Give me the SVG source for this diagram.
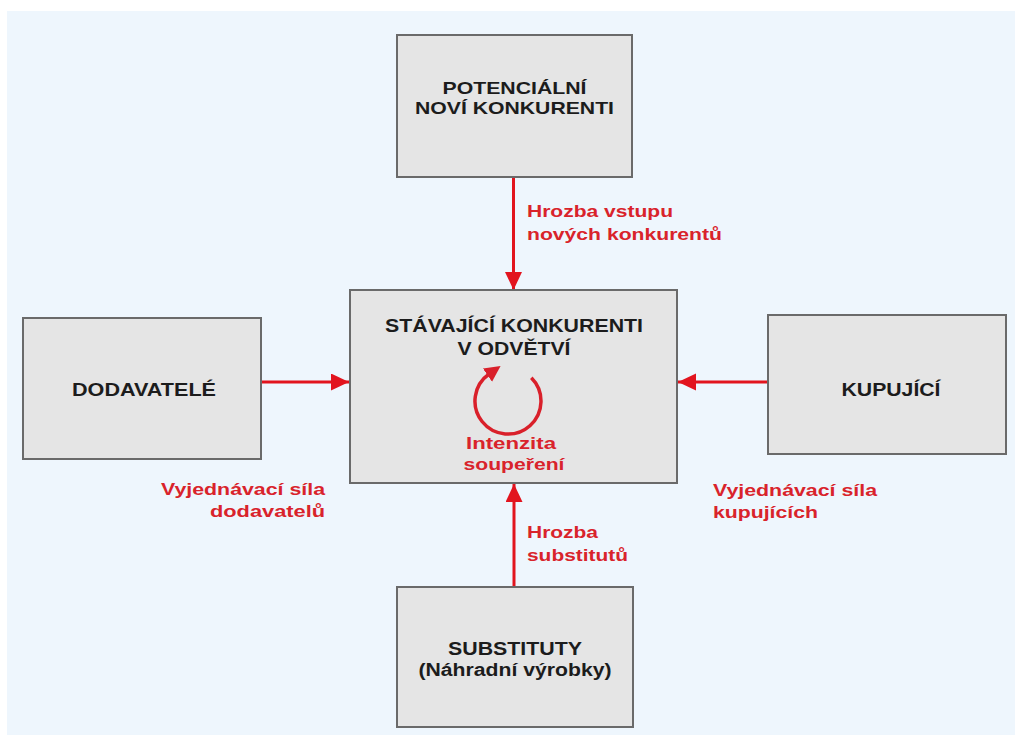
<svg xmlns="http://www.w3.org/2000/svg" width="1015" height="735" viewBox="0 0 1015 735">
<style>
.box{fill:#e5e5e5;stroke:#6a6a6a;stroke-width:2}
.t{font-family:"Liberation Sans",Arial,sans-serif;font-weight:bold;font-size:18px;fill:#1c1c1c}
.s{font-size:17px}
.r{font-family:"Liberation Sans",Arial,sans-serif;font-weight:bold;font-size:17px;fill:#d9232b}
.c{text-anchor:middle}
.e{text-anchor:end}
.ln{stroke:#e2141e;stroke-width:3;fill:none}
</style>
<defs>
<marker id="ah" markerUnits="userSpaceOnUse" markerWidth="20" markerHeight="18" refX="18" refY="8.5" orient="auto">
<path d="M0,0 L18,8.5 L0,17 z" fill="#e2141e"/>
</marker>
<marker id="ah2" markerUnits="userSpaceOnUse" markerWidth="18" markerHeight="18" refX="2" refY="8" orient="auto">
<path d="M0,0 L16,8 L0,16 z" fill="#d9202a"/>
</marker>
</defs>
<rect x="0" y="0" width="1015" height="735" fill="#ffffff"/>
<rect x="7" y="11" width="1008" height="724" fill="#eef6fd"/>

<g id="connectors">
<line class="ln" x1="513.5" y1="177" x2="513.5" y2="290" marker-end="url(#ah)"/>
<line class="ln" x1="261" y1="382" x2="349" y2="382" marker-end="url(#ah)"/>
<line class="ln" x1="768" y1="382" x2="678" y2="382" marker-end="url(#ah)"/>
<line class="ln" x1="514" y1="587" x2="514" y2="484" marker-end="url(#ah)"/>
</g>

<g id="node-potencialni">
<rect class="box" x="397" y="35" width="235" height="142"/>
<text class="t s c" x="514.5" y="94" textLength="144" lengthAdjust="spacingAndGlyphs">POTENCIÁLNÍ</text>
<text class="t s c" x="514.5" y="114" textLength="199" lengthAdjust="spacingAndGlyphs">NOVÍ KONKURENTI</text>
</g>

<g id="node-stavajici">
<rect class="box" x="350" y="290" width="327" height="193"/>
<text class="t c" x="514" y="332" textLength="258" lengthAdjust="spacingAndGlyphs">STÁVAJÍCÍ KONKURENTI</text>
<text class="t c" x="514" y="355" textLength="113" lengthAdjust="spacingAndGlyphs">V ODVĚTVÍ</text>
<path d="M531.3 377.7 A33 33 0 1 1 489.1 374" stroke="#d9202a" stroke-width="3.5" fill="none" marker-end="url(#ah2)"/>
<text class="r c" x="511" y="449" textLength="90" lengthAdjust="spacingAndGlyphs">Intenzita</text>
<text class="r c" x="514" y="470" textLength="101" lengthAdjust="spacingAndGlyphs">soupeření</text>
</g>

<g id="node-dodavatele">
<rect class="box" x="23" y="318" width="238" height="141"/>
<text class="t c" x="144" y="396" textLength="144" lengthAdjust="spacingAndGlyphs">DODAVATELÉ</text>
</g>

<g id="node-kupujici">
<rect class="box" x="768" y="315" width="238" height="139"/>
<text class="t c" x="891" y="396" textLength="99" lengthAdjust="spacingAndGlyphs">KUPUJÍCÍ</text>
</g>

<g id="node-substituty">
<rect class="box" x="397" y="587" width="236" height="140"/>
<text class="t c" x="515" y="655" textLength="134" lengthAdjust="spacingAndGlyphs">SUBSTITUTY</text>
<text class="t c" x="515" y="676" textLength="193" lengthAdjust="spacingAndGlyphs">(Náhradní výrobky)</text>
</g>

<g id="labels">
<text class="r" x="527" y="217" textLength="146" lengthAdjust="spacingAndGlyphs">Hrozba vstupu</text>
<text class="r" x="527" y="240" textLength="195" lengthAdjust="spacingAndGlyphs">nových konkurentů</text>
<text class="r e" x="325" y="495" textLength="164" lengthAdjust="spacingAndGlyphs">Vyjednávací síla</text>
<text class="r e" x="325" y="517" textLength="115" lengthAdjust="spacingAndGlyphs">dodavatelů</text>
<text class="r" x="713" y="496" textLength="164" lengthAdjust="spacingAndGlyphs">Vyjednávací síla</text>
<text class="r" x="713" y="518" textLength="105" lengthAdjust="spacingAndGlyphs">kupujících</text>
<text class="r" x="527" y="538" textLength="71" lengthAdjust="spacingAndGlyphs">Hrozba</text>
<text class="r" x="527" y="561" textLength="101" lengthAdjust="spacingAndGlyphs">substitutů</text>
</g>
</svg>
